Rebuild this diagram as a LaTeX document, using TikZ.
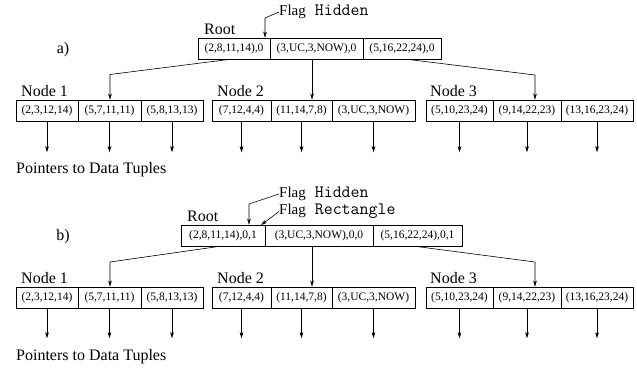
\documentclass[tikz,border=0pt]{standalone}
\usepackage{fontspec}
\setmainfont{Liberation Serif}
\usetikzlibrary{arrows.meta,calc}
\newcommand{\mytt}[1]{{\fontsize{17.4}{18}\selectfont\ttfamily #1}}
\begin{document}
\begin{tikzpicture}[x=1pt,y=-1pt,
  cell/.style={draw,line width=0.6pt,minimum height=21pt,inner sep=0pt,font=\fontsize{11.5}{12}\selectfont},
  lbl/.style={inner sep=0pt,font=\fontsize{16}{16}\selectfont},
  flag/.style={inner sep=0pt,anchor=west,text height=10pt,text depth=3pt,font=\fontsize{15}{16}\selectfont},
  arr/.style={line width=0.6pt,-{Stealth[length=6pt,width=3.6pt,inset=1.5pt]}}]
\useasboundingbox (0,0) rectangle (637,372);
% ---------- panel a ----------
\node[cell,minimum width=72pt] (ra1) at (234,48.5) {(2,8,11,14),0};
\node[cell,minimum width=93pt] (ra2) at (316.5,48.5) {(3,UC,3,NOW),0};
\node[cell,minimum width=78pt] (ra3) at (402,48.5) {(5,16,22,24),0};
\node[lbl,anchor=south west] (roota) at (204,35) {Root};
\node[lbl] (laba) at (63,50) {a)};
\node[flag] (fha) at (279,12) {Flag\mytt{ Hidden}};
\coordinate (fca) at (265,18);
\draw[arr] (fha.west) -- (fca) -- (fca |- ra1.north);
% nodes a
\node[cell,minimum width=62pt] (na11) at (47,110.5) {(2,3,12,14)};
\node[cell,minimum width=63pt] (na12) at (109.5,110.5) {(5,7,11,11)};
\node[cell,minimum width=62pt] (na13) at (172,110.5) {(5,8,13,13)};
\node[cell,minimum width=59pt] (na21) at (241.5,110.5) {(7,12,4,4)};
\node[cell,minimum width=61pt] (na22) at (301.5,110.5) {(11,14,7,8)};
\node[cell,minimum width=83pt] (na23) at (373.5,110.5) {(3,UC,3,NOW)};
\node[cell,minimum width=67pt] (na31) at (459.5,110.5) {(5,10,23,24)};
\node[cell,minimum width=68pt] (na32) at (527,110.5) {(9,14,22,23)};
\node[cell,minimum width=72pt] (na33) at (597,110.5) {(13,16,23,24)};
\node[lbl,anchor=south west] (nla1) at (21,97) {Node 1};
\node[lbl,anchor=south west] (nla2) at (217,97) {Node 2};
\node[lbl,anchor=south west] (nla3) at (430,97) {Node 3};
\coordinate (ka) at (110,74.5);
\draw[arr] ([xshift=-4pt]ra1.south) -- (ka) -- (ka |- na12.north);
\coordinate (ma) at ([xshift=-4.5pt]ra2.south);
\draw[arr] (ma) -- (ma |- na22.north);
\coordinate (kb) at (535,75);
\draw[arr] ([xshift=5pt]ra3.south) -- (kb) -- (kb |- na32.north);
\foreach \c in {na11,na12,na13,na21,na22,na23,na31,na32,na33}
  \draw[arr] (\c.south) -- ++(0,31);
\node[lbl,anchor=west] (pta) at (16,170) {Pointers to Data Tuples};
% ---------- panel b ----------
\node[cell,minimum width=84pt] (rb1) at (223,235.5) {(2,8,11,14),0,1};
\node[cell,minimum width=108pt] (rb2) at (319,235.5) {(3,UC,3,NOW),0,0};
\node[cell,minimum width=89pt] (rb3) at (417.5,235.5) {(5,16,22,24),0,1};
\node[lbl,anchor=south west] (rootb) at (187,222) {Root};
\node[lbl] (labb) at (63,237) {b)};
\node[flag] (fhb) at (279,194) {Flag\mytt{ Hidden}};
\node[flag] (frb) at (279,210.5) {Flag\mytt{ Rectangle}};
\coordinate (fcb) at (249,204);
\draw[arr] (fhb.west) -- (fcb) -- (fcb |- rb1.north);
\draw[arr] ([yshift=-1pt]frb.west) -- (261,225);
% nodes b
\node[cell,minimum width=62pt] (nb11) at (47,297.5) {(2,3,12,14)};
\node[cell,minimum width=63pt] (nb12) at (109.5,297.5) {(5,7,11,11)};
\node[cell,minimum width=62pt] (nb13) at (172,297.5) {(5,8,13,13)};
\node[cell,minimum width=59pt] (nb21) at (241.5,297.5) {(7,12,4,4)};
\node[cell,minimum width=61pt] (nb22) at (301.5,297.5) {(11,14,7,8)};
\node[cell,minimum width=83pt] (nb23) at (373.5,297.5) {(3,UC,3,NOW)};
\node[cell,minimum width=67pt] (nb31) at (459.5,297.5) {(5,10,23,24)};
\node[cell,minimum width=68pt] (nb32) at (527,297.5) {(9,14,22,23)};
\node[cell,minimum width=72pt] (nb33) at (597,297.5) {(13,16,23,24)};
\node[lbl,anchor=south west] (nlb1) at (21,284) {Node 1};
\node[lbl,anchor=south west] (nlb2) at (217,284) {Node 2};
\node[lbl,anchor=south west] (nlb3) at (430,284) {Node 3};
\coordinate (kc) at (110,262);
\draw[arr] ([xshift=-3pt]rb1.south) -- (kc) -- (kc |- nb12.north);
\coordinate (mb) at ([xshift=-7pt]rb2.south);
\draw[arr] (mb) -- (mb |- nb22.north);
\coordinate (kd) at (535,262);
\draw[arr] ([xshift=-2.5pt]rb3.south) -- (kd) -- (kd |- nb32.north);
\foreach \c in {nb11,nb12,nb13,nb21,nb22,nb23,nb31,nb32,nb33}
  \draw[arr] (\c.south) -- ++(0,30);
\node[lbl,anchor=west] (ptb) at (16,357) {Pointers to Data Tuples};
\end{tikzpicture}
\end{document}
